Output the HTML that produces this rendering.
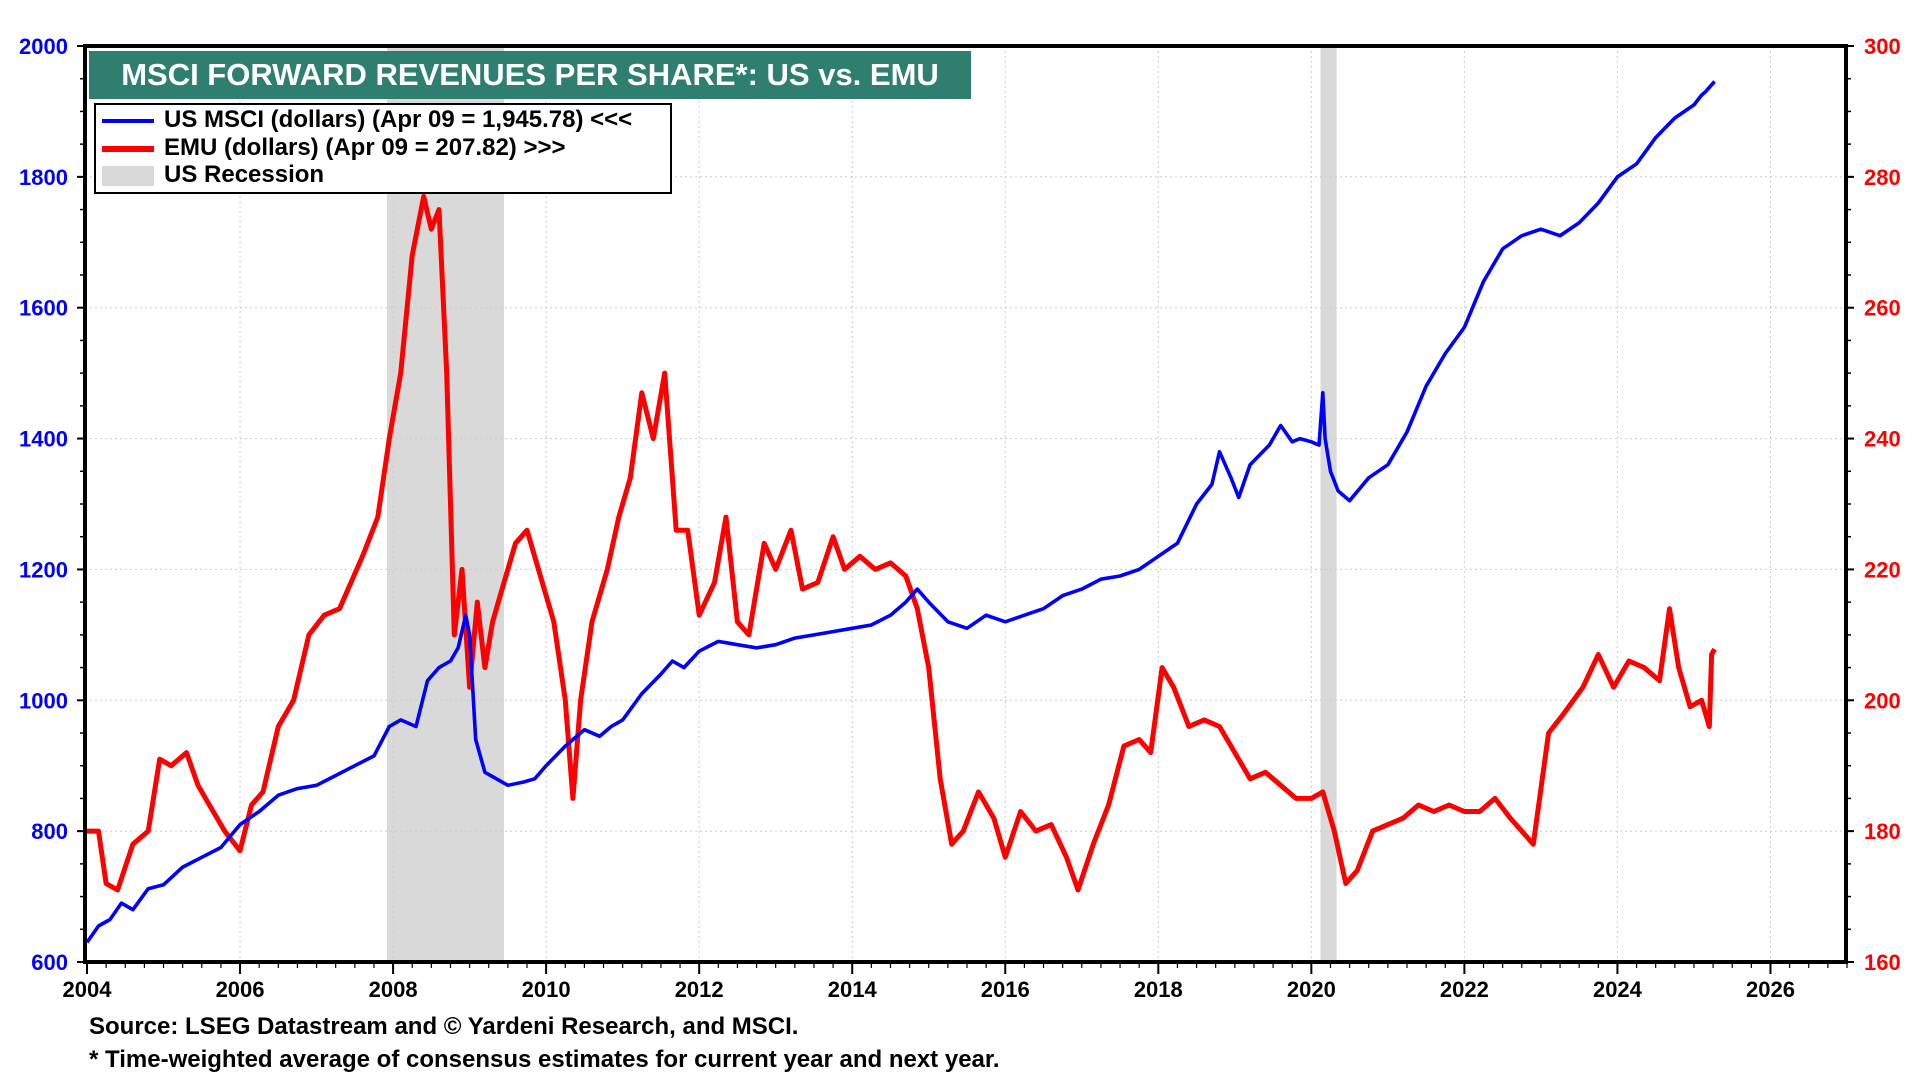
<!DOCTYPE html>
<html><head><meta charset="utf-8"><style>
html,body{margin:0;padding:0;background:#fff;}
body{width:1920px;height:1080px;overflow:hidden;font-family:"Liberation Sans",Arial,sans-serif;}
text{font-family:"Liberation Sans",Arial,sans-serif;font-weight:bold;}
</style></head><body>
<svg id="chart" width="1920" height="1080" xmlns="http://www.w3.org/2000/svg"></svg>
<script>
const xTickYears=[2004,2006,2008,2010,2012,2014,2016,2018,2020,2022,2024,2026];
const leftTicks=[600,800,1000,1200,1400,1600,1800,2000];
const rightTicks=[160,180,200,220,240,260,280,300];
const recessions=[[2007.92,2009.45],[2020.12,2020.33]];
const usYears=[2004.0,2004.15,2004.3,2004.45,2004.6,2004.8,2005.0,2005.25,2005.5,2005.75,2006.0,2006.25,2006.5,2006.75,2007.0,2007.25,2007.5,2007.75,2007.95,2008.1,2008.3,2008.45,2008.6,2008.75,2008.85,2008.95,2009.0,2009.08,2009.2,2009.35,2009.5,2009.7,2009.85,2010.0,2010.25,2010.5,2010.7,2010.85,2011.0,2011.25,2011.5,2011.65,2011.8,2012.0,2012.25,2012.5,2012.75,2013.0,2013.25,2013.5,2013.75,2014.0,2014.25,2014.5,2014.7,2014.85,2015.0,2015.25,2015.5,2015.75,2016.0,2016.25,2016.5,2016.75,2017.0,2017.25,2017.5,2017.75,2018.0,2018.25,2018.5,2018.7,2018.8,2018.95,2019.05,2019.2,2019.45,2019.6,2019.75,2019.85,2020.0,2020.1,2020.15,2020.18,2020.25,2020.35,2020.5,2020.75,2021.0,2021.25,2021.5,2021.75,2022.0,2022.25,2022.5,2022.75,2023.0,2023.25,2023.5,2023.75,2024.0,2024.25,2024.5,2024.75,2025.0,2025.1,2025.15,2025.27];
const usValues=[630,655,665,690,680,712,718,745,760,775,810,830,855,865,870,885,900,915,960,970,960,1030,1050,1060,1080,1130,1100,940,890,880,870,875,880,900,930,955,945,960,970,1010,1040,1060,1050,1075,1090,1085,1080,1085,1095,1100,1105,1110,1115,1130,1150,1170,1150,1120,1110,1130,1120,1130,1140,1160,1170,1185,1190,1200,1220,1240,1300,1330,1380,1340,1310,1360,1390,1420,1395,1400,1395,1390,1470,1400,1350,1320,1305,1340,1360,1410,1480,1530,1570,1640,1690,1710,1720,1710,1730,1760,1800,1820,1860,1890,1910,1925,1930,1945.78];
const emuYears=[2004.0,2004.15,2004.25,2004.4,2004.6,2004.8,2004.95,2005.1,2005.3,2005.45,2005.6,2005.8,2006.0,2006.15,2006.3,2006.5,2006.7,2006.9,2007.1,2007.3,2007.45,2007.6,2007.8,2007.95,2008.1,2008.25,2008.4,2008.5,2008.6,2008.7,2008.8,2008.9,2009.0,2009.1,2009.2,2009.3,2009.45,2009.6,2009.75,2009.95,2010.1,2010.25,2010.35,2010.45,2010.6,2010.8,2010.95,2011.1,2011.25,2011.4,2011.55,2011.7,2011.85,2012.0,2012.2,2012.35,2012.5,2012.65,2012.85,2013.0,2013.2,2013.35,2013.55,2013.75,2013.9,2014.1,2014.3,2014.5,2014.7,2014.85,2015.0,2015.15,2015.3,2015.45,2015.65,2015.85,2016.0,2016.2,2016.4,2016.6,2016.8,2016.95,2017.15,2017.35,2017.55,2017.75,2017.9,2018.05,2018.2,2018.4,2018.6,2018.8,2019.0,2019.2,2019.4,2019.6,2019.8,2020.0,2020.15,2020.3,2020.45,2020.6,2020.8,2021.0,2021.2,2021.4,2021.6,2021.8,2022.0,2022.2,2022.4,2022.6,2022.75,2022.9,2023.1,2023.3,2023.55,2023.75,2023.95,2024.15,2024.35,2024.55,2024.68,2024.8,2024.95,2025.1,2025.2,2025.23,2025.27];
const emuValues=[180,180,172,171,178,180,191,190,192,187,184,180,177,184,186,196,200,210,213,214,218,222,228,240,250,268,277,272,275,250,210,220,202,215,205,212,218,224,226,218,212,200,185,200,212,220,228,234,247,240,250,226,226,213,218,228,212,210,224,220,226,217,218,225,220,222,220,221,219,214,205,188,178,180,186,182,176,183,180,181,176,171,178,184,193,194,192,205,202,196,197,196,192,188,189,187,185,185,186,180,172,174,180,181,182,184,183,184,183,183,185,182,180,178,195,198,202,207,202,206,205,203,214,205,199,200,196,207,207.82];

const svg=document.getElementById('chart');
const NS='http://www.w3.org/2000/svg';
const L=85,R=1846,T=46,B=962;
const X0=2004,X1=2027;
function xs(v){return 87+(v-X0)*(1847-87)/(X1-X0);}
function yl(v){return B-(v-600)*(B-T)/1400;}
function yr(v){return B-(v-160)*(B-T)/140;}
function mk(tag,attrs,parent){const e=document.createElementNS(NS,tag);for(const k in attrs)e.setAttribute(k,attrs[k]);(parent||svg).appendChild(e);return e;}

recessions.forEach(r=>{
  const e=mk('rect',{x:xs(r[0]),y:T,width:xs(r[1])-xs(r[0]),height:B-T,fill:'#d9d9d9'});
  
  
});
leftTicks.forEach(v=>{
  if(v===600||v===2000)return;
  const e=mk('line',{x1:L,x2:R,y1:yl(v),y2:yl(v),stroke:'#ccc','stroke-width':1,'stroke-dasharray':'2,3'});
  
  
});
xTickYears.forEach(v=>{
  if(v===2004)return;
  const e=mk('line',{x1:xs(v),x2:xs(v),y1:T,y2:B,stroke:'#ccc','stroke-width':1,'stroke-dasharray':'2,3'});
  
  
});
function path(xsArr,ysArr,f){return xsArr.map((x,i)=>(i?'L':'M')+xs(x).toFixed(1)+','+f(ysArr[i]).toFixed(1)).join(' ');}
const emu=mk('path',{d:path(emuYears,emuValues,yr),fill:'none',stroke:'#ff0000','stroke-width':5,'stroke-linejoin':'round'});


const us=mk('path',{d:path(usYears,usValues,yl),fill:'none',stroke:'#0000ff','stroke-width':3.6,'stroke-linejoin':'round'});


const fr=mk('rect',{x:L,y:T,width:R-L,height:B-T,fill:'none',stroke:'#000','stroke-width':4});


leftTicks.forEach(v=>{
  mk('line',{x1:L-8,x2:L,y1:yl(v),y2:yl(v),stroke:'#000','stroke-width':2});
  const t=mk('text',{x:68,y:yl(v)+8,'text-anchor':'end','font-size':22,fill:'#0000ff'});
  t.textContent=v;
  
  
});
for(let v=600;v<2000;v+=50){mk('line',{x1:L-5,x2:L,y1:yl(v),y2:yl(v),stroke:'#000','stroke-width':1.5});}
rightTicks.forEach(v=>{
  mk('line',{x1:R,x2:R+8,y1:yr(v),y2:yr(v),stroke:'#000','stroke-width':2});
  const t=mk('text',{x:1864,y:yr(v)+8,'text-anchor':'start','font-size':22,fill:'#ff0000'});
  t.textContent=v;
  
  
});
for(let v=160;v<300;v+=5){mk('line',{x1:R,x2:R+5,y1:yr(v),y2:yr(v),stroke:'#000','stroke-width':1.5});}
xTickYears.forEach(v=>{
  mk('line',{x1:xs(v),x2:xs(v),y1:B,y2:B+12,stroke:'#000','stroke-width':2});
  const t=mk('text',{x:xs(v),y:997,'text-anchor':'middle','font-size':22,fill:'#000'});
  t.textContent=v;
  
  
});
for(let m=0;m<=23*4;m++){const v=X0+m/4;mk('line',{x1:xs(v),x2:xs(v),y1:B,y2:B+6,stroke:'#000','stroke-width':1.2});}
</script>
<div style="position:absolute;left:89px;top:51px;width:882px;height:48px;background:#2e7f70;color:#fff;font-size:31px;font-weight:bold;line-height:48px;text-align:center;white-space:nowrap;">MSCI FORWARD REVENUES PER SHARE*: US vs. EMU</div>
<div style="position:absolute;left:94px;top:103px;width:574px;height:87px;background:#fff;border:2px solid #000;font-size:24px;font-weight:bold;">
  <div style="position:absolute;left:6px;top:1px;white-space:nowrap;"><span style="display:inline-block;width:52px;height:4px;background:#0000ff;vertical-align:middle;margin-right:10px;"></span>US MSCI (dollars) (Apr 09 = 1,945.78) &lt;&lt;&lt;</div>
  <div style="position:absolute;left:6px;top:29px;white-space:nowrap;"><span style="display:inline-block;width:52px;height:6px;background:#ff0000;vertical-align:middle;margin-right:10px;"></span>EMU (dollars) (Apr 09 = 207.82) &gt;&gt;&gt;</div>
  <div style="position:absolute;left:6px;top:56px;white-space:nowrap;"><span style="display:inline-block;width:52px;height:20px;background:#d9d9d9;vertical-align:middle;margin-right:10px;"></span>US Recession</div>
</div>
<div style="position:absolute;left:89px;top:1013px;font-size:24px;font-weight:bold;white-space:nowrap;">Source: LSEG Datastream and © Yardeni Research, and MSCI.</div>
<div style="position:absolute;left:89px;top:1046px;font-size:24px;font-weight:bold;white-space:nowrap;">* Time-weighted average of consensus estimates for current year and next year.</div>
</body></html>
